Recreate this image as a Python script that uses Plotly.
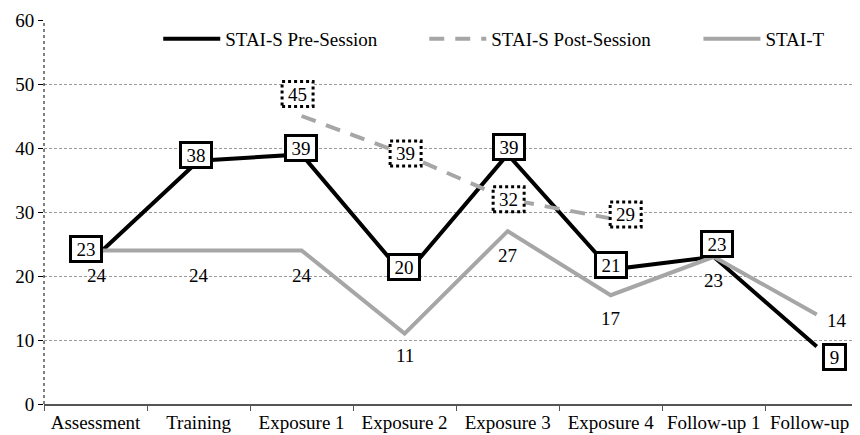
import plotly.graph_objects as go

categories = ["Assessment", "Training", "Exposure 1", "Exposure 2", "Exposure 3",
              "Exposure 4", "Follow-up 1", "Follow-up 2"]
pre_session = [23, 38, 39, 20, 39, 21, 23, 9]
post_categories = ["Exposure 1", "Exposure 2", "Exposure 3", "Exposure 4"]
post_session = [45, 39, 32, 29]
stai_t = [24, 24, 24, 11, 27, 17, 23, 14]

# label placement offsets in pixels (style only)
pre_shift = [(-10, 8), (-3, 6), (-1, 6), (-1, 9), (1, 7), (0, 5), (3, 13), (18, -11)]
post_shift = [(-4, 22), (1, 1), (1, 0), (15, 4)]
t_shift = [(1, -25), (0, -25), (0, -25), (0, -22), (0, -24), (0, -23), (0, -24), (20, -6)]

FONT = "Times New Roman, Liberation Serif, DejaVu Serif, serif"
FS = 19

fig = go.Figure()
fig.add_trace(go.Scatter(x=categories, y=pre_session, mode="lines", name="STAI-S Pre-Session",
                         line=dict(color="black", width=4), legend="legend"))
fig.add_trace(go.Scatter(x=post_categories, y=post_session, mode="lines", name="STAI-S Post-Session",
                         line=dict(color="#A6A6A6", width=4, dash="15px,11px"), legend="legend2"))
fig.add_trace(go.Scatter(x=categories, y=stai_t, mode="lines", name="STAI-T",
                         line=dict(color="#A6A6A6", width=4), legend="legend3"))

annotations = []
shapes = []
for c, v, (dx, dy) in zip(categories, pre_session, pre_shift):
    w = 19 if v < 10 else 28
    annotations.append(dict(x=c, y=v, text=str(v), showarrow=False, xshift=dx, yshift=dy,
                            bgcolor="white", bordercolor="black", borderwidth=3, borderpad=0,
                            width=w, height=22, font=dict(family=FONT, size=FS, color="black")))
for c, v, (dx, dy) in zip(post_categories, post_session, post_shift):
    shapes.append(dict(type="rect", xref="x", yref="y", xsizemode="pixel", ysizemode="pixel",
                       xanchor=c, yanchor=v, x0=dx - 15.5, x1=dx + 15.5, y0=dy - 12.5, y1=dy + 12.5,
                       line=dict(color="black", width=3, dash="dot"), fillcolor="white", layer="above"))
    annotations.append(dict(x=c, y=v, text=str(v), showarrow=False, xshift=dx, yshift=dy,
                            font=dict(family=FONT, size=FS, color="black")))
for c, v, (dx, dy) in zip(categories, stai_t, t_shift):
    annotations.append(dict(x=c, y=v, text=str(v), showarrow=False, xshift=dx, yshift=dy,
                            font=dict(family=FONT, size=FS, color="black")))

# dotted vertical axis line
shapes.append(dict(type="line", xref="paper", yref="y", x0=0, x1=0, y0=0, y1=60,
                   line=dict(color="black", width=1, dash="dot"), layer="above"))

leg_common = dict(orientation="h", y=1.0, xanchor="left", yanchor="top", itemwidth=57,
                  bgcolor="rgba(0,0,0,0)", font=dict(family=FONT, size=FS, color="black"))
fig.update_layout(
    width=852, height=427,
    margin=dict(l=36, r=0, t=12, b=31),
    paper_bgcolor="white", plot_bgcolor="white",
    font=dict(family=FONT, size=FS, color="black"),
    showlegend=True,
    legend=dict(x=0.140, **leg_common),
    legend2=dict(x=0.466, **leg_common),
    legend3=dict(x=0.802, **leg_common),
    annotations=annotations,
    shapes=shapes,
)
fig.update_xaxes(type="category", categoryorder="array", categoryarray=categories,
                 range=[-0.5, 7.42], showgrid=False, showline=True, linecolor="#555555",
                 linewidth=1.5, ticks="outside", ticklen=5, tickcolor="#555555",
                 tickson="boundaries", automargin=False,
                 tickfont=dict(family=FONT, size=FS, color="black"))
fig.update_yaxes(range=[0, 60], dtick=10, showgrid=True, gridcolor="#9a9a9a", gridwidth=1,
                 griddash="3px,2px", zeroline=False, showline=False, ticks="outside",
                 ticklen=5, tickcolor="black", automargin=False,
                 tickfont=dict(family=FONT, size=FS, color="black"))

fig.write_html("out.html")
